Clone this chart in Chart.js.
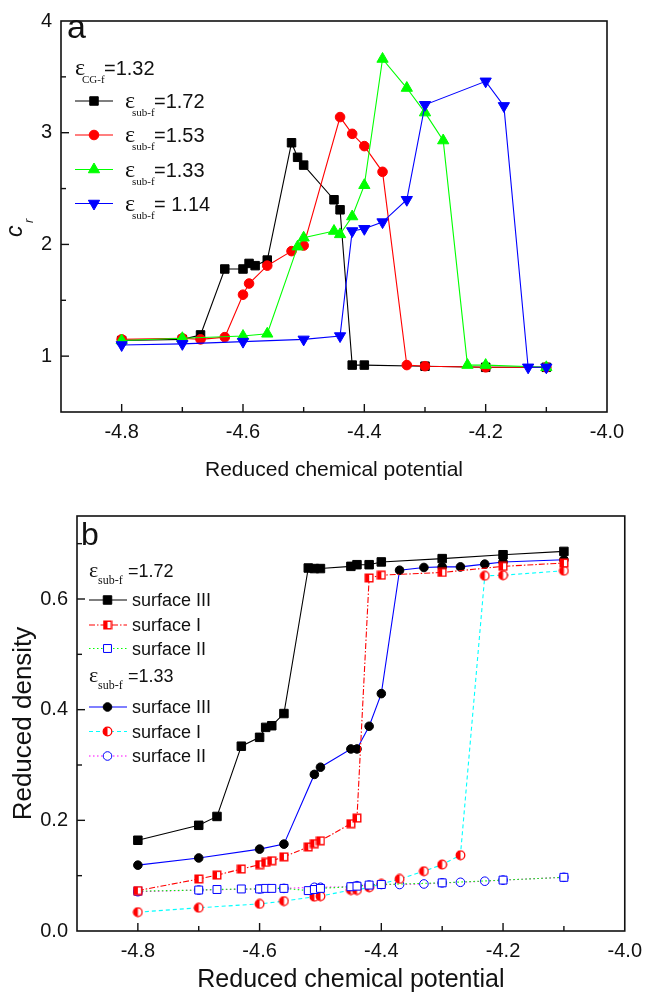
<!DOCTYPE html>
<html>
<head>
<meta charset="utf-8">
<script src="https://cdn.jsdelivr.net/npm/chart.js@4.4.1/dist/chart.umd.min.js"></script>
<style>
  html, body { margin: 0; padding: 0; background: #fff; }
  #wrap { position: relative; width: 650px; height: 998px; }
  canvas { position: absolute; left: 0; }
</style>
</head>
<body>
<div id="wrap">
  <canvas id="panelA" width="650" height="490" style="top:0"></canvas>
  <canvas id="panelB" width="650" height="503" style="top:495px"></canvas>
</div>
<script>
const SANS = "'Liberation Sans', Arial, sans-serif";
const SERIF = "'Liberation Serif', 'Times New Roman', serif";

// (a) c_r vs reduced chemical potential, eps_CG-f = 1.32
const muA172 = [-4.80, -4.70, -4.67, -4.63, -4.60, -4.59, -4.58, -4.56, -4.52, -4.51, -4.50, -4.45, -4.44, -4.42, -4.40, -4.30, -4.20, -4.10];
const crA172 = [1.14, 1.15, 1.19, 1.78, 1.78, 1.83, 1.81, 1.86, 2.91, 2.78, 2.71, 2.40, 2.31, 0.92, 0.92, 0.91, 0.90, 0.90];
const muA153 = [-4.80, -4.70, -4.67, -4.63, -4.60, -4.59, -4.56, -4.52, -4.50, -4.44, -4.42, -4.40, -4.37, -4.33, -4.30, -4.20, -4.10];
const crA153 = [1.15, 1.16, 1.15, 1.17, 1.55, 1.65, 1.81, 1.94, 1.99, 3.14, 2.99, 2.88, 2.65, 0.92, 0.91, 0.90, 0.90];
const muA133 = [-4.80, -4.70, -4.60, -4.56, -4.51, -4.50, -4.45, -4.44, -4.42, -4.40, -4.37, -4.33, -4.30, -4.27, -4.23, -4.20, -4.10];
const crA133 = [1.14, 1.16, 1.18, 1.20, 1.98, 2.06, 2.12, 2.09, 2.25, 2.53, 3.66, 3.40, 3.18, 2.93, 0.92, 0.92, 0.90];
const muA114 = [-4.80, -4.70, -4.60, -4.50, -4.44, -4.42, -4.40, -4.37, -4.33, -4.30, -4.20, -4.17, -4.13, -4.10];
const crA114 = [1.10, 1.11, 1.13, 1.15, 1.18, 2.12, 2.14, 2.20, 2.40, 3.25, 3.46, 3.24, 0.90, 0.90];

// (b) reduced density of the three surfaces
const muB172 = [-4.80, -4.70, -4.67, -4.63, -4.60, -4.59, -4.58, -4.56, -4.52, -4.51, -4.50, -4.45, -4.44, -4.42, -4.40, -4.30, -4.20, -4.10];
const rhoB172III = [0.164, 0.191, 0.207, 0.334, 0.350, 0.368, 0.371, 0.393, 0.656, 0.655, 0.655, 0.659, 0.662, 0.662, 0.667, 0.673, 0.680, 0.686];
const rhoB172I = [0.073, 0.094, 0.101, 0.112, 0.120, 0.124, 0.127, 0.134, 0.152, 0.158, 0.163, 0.194, 0.204, 0.638, 0.643, 0.648, 0.659, 0.665];
const rhoB172II = [0.072, 0.074, 0.075, 0.076, 0.076, 0.077, 0.077, 0.077, 0.073, 0.075, 0.077, 0.080, 0.081, 0.083, 0.084, 0.087, 0.092, 0.097];
const muB133 = [-4.80, -4.70, -4.60, -4.56, -4.51, -4.50, -4.45, -4.44, -4.42, -4.40, -4.37, -4.33, -4.30, -4.27, -4.23, -4.20, -4.10];
const rhoB133III = [0.119, 0.132, 0.148, 0.157, 0.283, 0.296, 0.329, 0.329, 0.370, 0.429, 0.652, 0.657, 0.658, 0.658, 0.663, 0.667, 0.671];
const rhoB133I = [0.034, 0.042, 0.049, 0.054, 0.062, 0.063, 0.074, 0.074, 0.079, 0.085, 0.094, 0.108, 0.120, 0.137, 0.642, 0.643, 0.651];
const rhoB133II = [0.071, 0.074, 0.076, 0.077, 0.079, 0.079, 0.080, 0.082, 0.083, 0.084, 0.084, 0.085, 0.087, 0.088, 0.090, 0.092, 0.097];

const xTickLabels = ['-4.8', '-4.6', '-4.4', '-4.2', '-4.0'];
const yTickLabelsA = ['1', '2', '3', '4'];
const yTickLabelsB = ['0.0', '0.2', '0.4', '0.6'];

const legendA = ['=1.72', '=1.53', '=1.33', '= 1.14'];
const legendB = ['surface III', 'surface I', 'surface II'];

const pts = (xs, ys) => xs.map((x, i) => ({ x, y: ys[i] }));

// half-filled markers (left half filled)
function halfSquare(color) {
  const c = document.createElement('canvas');
  c.width = 10; c.height = 10;
  const g = c.getContext('2d');
  g.fillStyle = '#fff'; g.fillRect(1, 1, 8, 8);
  g.fillStyle = color; g.fillRect(1, 1, 4, 8);
  g.strokeStyle = color; g.lineWidth = 1.4; g.strokeRect(1.2, 1.2, 7.6, 7.6);
  return c;
}
function halfCircle(color) {
  const c = document.createElement('canvas');
  c.width = 11; c.height = 11;
  const g = c.getContext('2d');
  g.beginPath(); g.arc(5.5, 5.5, 4.3, 0, Math.PI * 2); g.fillStyle = '#fff'; g.fill();
  g.beginPath(); g.moveTo(5.5, 5.5); g.arc(5.5, 5.5, 4.3, Math.PI / 2, Math.PI * 1.5); g.closePath();
  g.fillStyle = color; g.fill();
  g.beginPath(); g.arc(5.5, 5.5, 4.3, 0, Math.PI * 2); g.strokeStyle = color; g.lineWidth = 1.3; g.stroke();
  return c;
}

// box frame + inward tick marks
const frameTicks = {
  id: 'frameTicks',
  afterDatasetsDraw(chart) {
    const { ctx, chartArea: a } = chart;
    ctx.save();
    ctx.strokeStyle = '#111';
    ctx.lineWidth = 1.6;
    ctx.strokeRect(a.left, a.top, a.right - a.left, a.bottom - a.top);
    ctx.lineWidth = 1.4;
    ['x', 'y'].forEach(id => {
      const s = chart.scales[id];
      s.ticks.forEach(t => {
        const p = s.getPixelForValue(t.value);
        const len = t.label ? 8 : 5;
        ctx.beginPath();
        if (id === 'x') {
          if (p < a.left + 1 || p > a.right - 1) return;
          ctx.moveTo(p, a.bottom); ctx.lineTo(p, a.bottom - len);
        } else {
          if (p < a.top + 1 || p > a.bottom - 1) return;
          ctx.moveTo(a.left, p); ctx.lineTo(a.left + len, p);
        }
        ctx.stroke();
      });
    });
    ctx.restore();
  }
};

function drawEps(ctx, x, base, sub, rest, f) {
  ctx.font = `${f.eps}px ${SERIF}`;
  ctx.fillText('\u03b5', x, base);
  ctx.font = `${f.sub}px ${SERIF}`;
  ctx.fillText(sub, x + f.subDx, base + f.subDy);
  ctx.font = `${f.rest}px ${SANS}`;
  ctx.fillText(rest, x + f.restDx, base);
}

// legend drawn inside the plot box
const keyBox = {
  id: 'keyBox',
  afterDraw(chart, args, o) {
    const ctx = chart.ctx;
    ctx.save();
    ctx.fillStyle = '#111';
    ctx.textBaseline = 'alphabetic';
    ctx.font = `${o.panel.size}px ${SANS}`;
    ctx.fillText(o.panel.text, o.panel.x, o.panel.y);
    o.items.forEach(it => {
      if (it.ds !== undefined) {
        const ds = chart.data.datasets[it.ds];
        ctx.strokeStyle = ds.borderColor;
        ctx.lineWidth = ds.borderWidth;
        ctx.setLineDash(ds.borderDash || []);
        ctx.beginPath();
        ctx.moveTo(o.lineX0, it.y); ctx.lineTo(o.lineX1, it.y);
        ctx.stroke();
        ctx.setLineDash([]);
        ctx.fillStyle = ds.pointBackgroundColor;
        ctx.strokeStyle = ds.pointBorderColor;
        ctx.lineWidth = ds.pointBorderWidth;
        Chart.helpers.drawPoint(ctx, {
          pointStyle: ds.pointStyle, radius: ds.pointRadius,
          rotation: ds.pointRotation || 0, borderWidth: ds.pointBorderWidth
        }, o.markX, it.y);
        ctx.fillStyle = '#111';
      }
      if (it.sub) {
        drawEps(ctx, it.x, it.base, it.sub, it.text, o.eps);
      } else if (it.text) {
        ctx.font = `${o.textSize}px ${SANS}`;
        ctx.fillText(it.text, it.x, it.base);
      }
    });
    ctx.restore();
  }
};

// italic c with subscript r, rotated along the y axis
const crTitle = {
  id: 'crTitle',
  afterDraw(chart) {
    const ctx = chart.ctx;
    ctx.save();
    ctx.translate(22, 237);
    ctx.rotate(-Math.PI / 2);
    ctx.fillStyle = '#111';
    ctx.font = `italic 23px ${SANS}`;
    ctx.fillText('c', 0, 0);
    ctx.font = `italic 13px ${SANS}`;
    ctx.fillText('r', 14, 11);
    ctx.restore();
  }
};

Chart.defaults.font.family = SANS;
Chart.defaults.color = '#111';

function line(data, color, marker) {
  return Object.assign({
    data, showLine: true, borderColor: color, borderWidth: 1.1,
    pointBackgroundColor: color, pointBorderColor: color, pointBorderWidth: 1,
    pointHoverRadius: 0
  }, marker);
}

function xScale(height, titleSize, titlePad) {
  return {
    type: 'linear', min: -4.9, max: -4.0,
    ticks: {
      stepSize: 0.1, autoSkip: false, maxRotation: 0, padding: 8,
      font: { size: 20 }, color: '#111',
      callback: v => xTickLabels.includes(v.toFixed(1)) ? v.toFixed(1) : ''
    },
    grid: { display: false, drawTicks: false },
    border: { display: false },
    title: {
      display: true, text: 'Reduced chemical potential', color: '#111',
      font: { size: titleSize }, padding: { top: 0, bottom: titlePad }
    },
    afterFit(s) { s.height = height; }
  };
}

const cA = document.getElementById('panelA');
new Chart(cA, {
  type: 'scatter',
  data: {
    datasets: [
      line(pts(muA172, crA172), '#000000', { pointStyle: 'rect', pointRadius: 6, order: 4 }),
      line(pts(muA153, crA153), '#ff0000', { pointStyle: 'circle', pointRadius: 4.8, order: 3 }),
      line(pts(muA133, crA133), '#00ff00', { pointStyle: 'triangle', pointRadius: 6.5, order: 2 }),
      line(pts(muA114, crA114), '#0000ff', { pointStyle: 'triangle', pointRadius: 6.5, pointRotation: 180, rotation: 180, order: 1 })
    ]
  },
  options: {
    responsive: false, animation: false, devicePixelRatio: 1,
    layout: { padding: { left: 0, top: 15, right: 43, bottom: 0 } },
    scales: {
      x: xScale(78, 21, 7),
      y: {
        type: 'linear', min: 0.5, max: 4,
        ticks: {
          stepSize: 0.5, padding: 9, font: { size: 20 }, color: '#111',
          callback: v => yTickLabelsA.includes(String(v)) ? String(v) : ''
        },
        grid: { display: false, drawTicks: false },
        border: { display: false },
        afterFit(s) { s.width = 61; }
      }
    },
    plugins: {
      legend: { display: false },
      tooltip: { enabled: false },
      keyBox: {
        panel: { text: 'a', size: 34, x: 67, y: 38 },
        lineX0: 75, lineX1: 113, markX: 94, textSize: 20,
        eps: { eps: 24, sub: 11, rest: 20, subDx: 7, subDy: 8, restDx: 29 },
        items: [
          { x: 75, base: 75, sub: 'CG-f', text: '=1.32' },
          { ds: 0, y: 101, x: 125, base: 108, sub: 'sub-f', text: legendA[0] },
          { ds: 1, y: 135, x: 125, base: 142, sub: 'sub-f', text: legendA[1] },
          { ds: 2, y: 169.5, x: 125, base: 176.5, sub: 'sub-f', text: legendA[2] },
          { ds: 3, y: 203.5, x: 125, base: 210.5, sub: 'sub-f', text: legendA[3] }
        ]
      }
    }
  },
  plugins: [frameTicks, keyBox, crTitle]
});

const cB = document.getElementById('panelB');
const OFF = 495;
new Chart(cB, {
  type: 'scatter',
  data: {
    datasets: [
      line(pts(muB172, rhoB172III), '#000000', { pointStyle: 'rect', pointRadius: 6 }),
      line(pts(muB172, rhoB172I), '#ff0000', { pointStyle: halfSquare('#ff0000'), pointRadius: 5, borderDash: [6, 2, 1.5, 2] }),
      line(pts(muB172, rhoB172II), '#00ff00', { pointStyle: 'rect', pointRadius: 5.6, pointBackgroundColor: '#ffffff', pointBorderColor: '#0000ff', borderDash: [1.5, 2.5] }),
      line(pts(muB133, rhoB133III), '#0000ff', { pointStyle: 'circle', pointRadius: 4.3, pointBackgroundColor: '#000000', pointBorderColor: '#000000' }),
      line(pts(muB133, rhoB133I), '#00ffff', { pointStyle: halfCircle('#ff0000'), pointRadius: 5, borderDash: [4, 3] }),
      line(pts(muB133, rhoB133II), '#ff00ff', { pointStyle: 'circle', pointRadius: 4.3, pointBackgroundColor: '#ffffff', pointBorderColor: '#0000ff', borderDash: [1.5, 2.5] })
    ]
  },
  options: {
    responsive: false, animation: false, devicePixelRatio: 1,
    layout: { padding: { left: 0, top: 16, right: 20, bottom: 0 } },
    scales: {
      x: xScale(67, 25, 3),
      y: {
        type: 'linear', min: 0, max: 0.75,
        ticks: {
          stepSize: 0.1, padding: 9, font: { size: 20 }, color: '#111',
          callback: v => yTickLabelsB.includes(v.toFixed(1)) && Math.abs(v * 10 - Math.round(v * 10)) < 1e-6 ? v.toFixed(1) : ''
        },
        grid: { display: false, drawTicks: false },
        border: { display: false },
        title: {
          display: true, text: 'Reduced density', color: '#111',
          font: { size: 26 }, padding: { top: 8, bottom: 0 }
        },
        afterFit(s) { s.width = 77; }
      }
    },
    plugins: {
      legend: { display: false },
      tooltip: { enabled: false },
      keyBox: {
        panel: { text: 'b', size: 32, x: 81, y: 545 - OFF },
        lineX0: 89, lineX1: 127, markX: 107.5, textSize: 18,
        eps: { eps: 22, sub: 12, rest: 18, subDx: 9, subDy: 7, restDx: 39 },
        items: [
          { x: 89, base: 577 - OFF, sub: 'sub-f', text: '=1.72' },
          { ds: 0, y: 600 - OFF, x: 132, base: 606 - OFF, text: legendB[0] },
          { ds: 1, y: 625 - OFF, x: 132, base: 631 - OFF, text: legendB[1] },
          { ds: 2, y: 648.5 - OFF, x: 132, base: 654.5 - OFF, text: legendB[2] },
          { x: 89, base: 682 - OFF, sub: 'sub-f', text: '=1.33' },
          { ds: 3, y: 707 - OFF, x: 132, base: 713 - OFF, text: legendB[0] },
          { ds: 4, y: 731.5 - OFF, x: 132, base: 737.5 - OFF, text: legendB[1] },
          { ds: 5, y: 756 - OFF, x: 132, base: 762 - OFF, text: legendB[2] }
        ]
      }
    }
  },
  plugins: [frameTicks, keyBox]
});
</script>
</body>
</html>
